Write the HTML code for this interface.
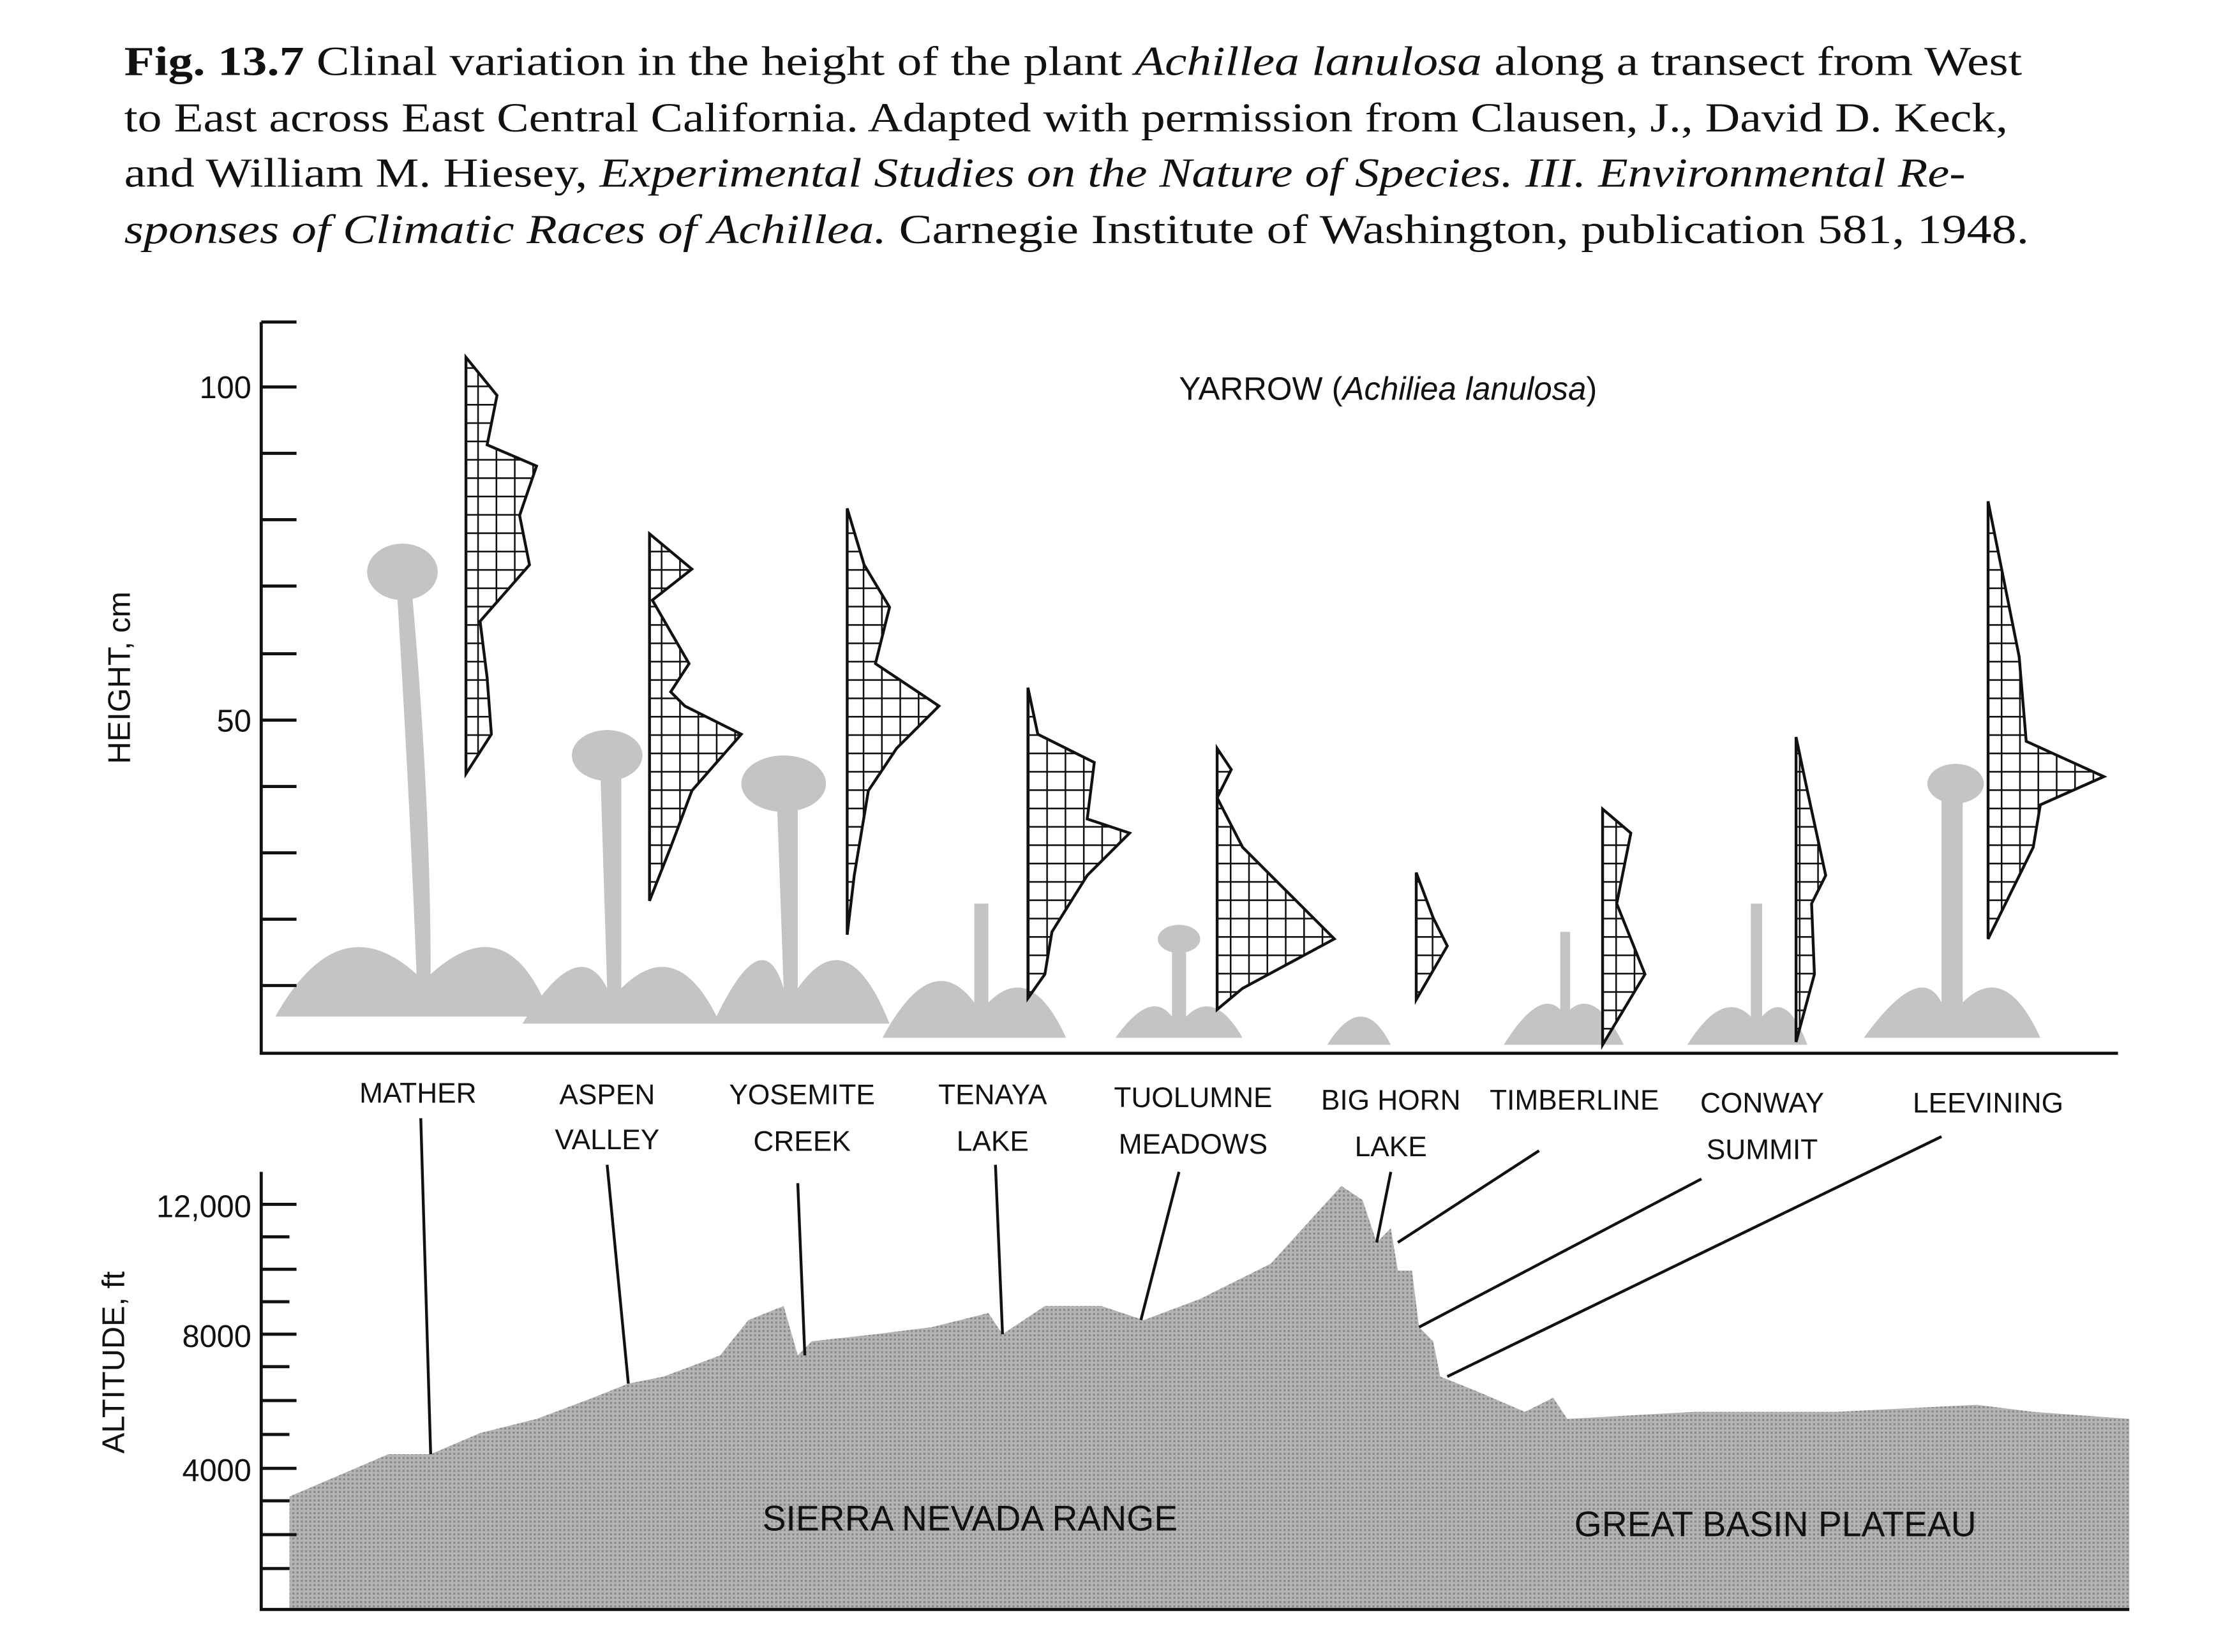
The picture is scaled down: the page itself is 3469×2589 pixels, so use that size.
<!DOCTYPE html>
<html><head><meta charset="utf-8"><style>
html,body{margin:0;padding:0;background:#fff;}
svg{display:block;}
.cap{font-family:"Liberation Serif",serif;font-size:29px;fill:#111;}
.s{font-family:"Liberation Sans",sans-serif;fill:#111;}
</style></head><body>
<svg width="3469" height="2589" viewBox="0 0 1568 1170" xmlns="http://www.w3.org/2000/svg">
<defs>
<pattern id="grid" width="13" height="13" patternUnits="userSpaceOnUse">
<rect width="13" height="13" fill="#fff"/>
<path d="M0 0.5H13M0.5 0V13" stroke="#111" stroke-width="1.3"/>
</pattern>
<pattern id="dots" width="3" height="3" patternUnits="userSpaceOnUse">
<rect width="3" height="3" fill="#b4b4b4"/><rect width="1.5" height="1.5" fill="#8a8a8a"/>
</pattern>
</defs>
<rect width="1568" height="1170" fill="#fff"/>
<text class="cap" x="88" y="53" textLength="1344" lengthAdjust="spacingAndGlyphs"><tspan font-weight="bold">Fig. 13.7</tspan>   Clinal variation in the height of the plant <tspan font-style="italic">Achillea lanulosa</tspan> along a transect from West</text>
<text class="cap" x="88" y="93" textLength="1334" lengthAdjust="spacingAndGlyphs">to East across East Central California. Adapted with permission from Clausen, J., David D. Keck,</text>
<text class="cap" x="88" y="132" textLength="1304" lengthAdjust="spacingAndGlyphs">and William M. Hiesey, <tspan font-style="italic">Experimental Studies on the Nature of Species. III. Environmental Re-</tspan></text>
<text class="cap" x="88" y="172" textLength="1349" lengthAdjust="spacingAndGlyphs"><tspan font-style="italic">sponses of Climatic Races of Achillea.</tspan> Carnegie Institute of Washington, publication 581, 1948.</text>

<!-- plant silhouettes -->
<g fill="#c4c4c4">
<path d="M195 720 Q240 640 295 690 Q290 560 280 400 L290 400 Q305 560 305 690 Q360 640 390 720 Z"/>
<ellipse cx="285" cy="405" rx="25" ry="20"/>
<path d="M370 725 Q410 660 430 700 L425 540 L440 540 L440 700 Q480 660 510 725 Z"/>
<ellipse cx="430" cy="535" rx="25" ry="18"/>
<path d="M505 725 Q540 650 555 700 L550 560 L565 560 L565 700 Q600 650 630 725 Z"/>
<ellipse cx="555" cy="555" rx="30" ry="20"/>
<path d="M625 735 Q660 670 690 710 L690 640 L700 640 L700 710 Q730 680 755 735 Z"/>
<path d="M790 735 Q815 700 830 720 L830 670 L840 670 L840 720 Q860 700 880 735 Z"/>
<ellipse cx="835" cy="665" rx="15" ry="10"/>
<path d="M940 740 Q965 700 985 740 Z"/>
<path d="M1065 740 Q1090 700 1105 715 L1105 660 L1112 660 L1112 715 Q1130 700 1150 740 Z"/>
<path d="M1195 740 Q1220 700 1240 720 L1240 640 L1248 640 L1248 720 Q1265 700 1280 740 Z"/>
<path d="M1320 735 Q1360 680 1375 710 L1375 560 L1390 560 L1390 710 Q1420 680 1445 735 Z"/>
<ellipse cx="1385" cy="555" rx="20" ry="14"/>
</g>

<!-- top axis -->
<g stroke="#111" stroke-width="2.2" fill="none">
<path d="M185 228 V746 H1500"/>
<path d="M185 228 H210 M185 274 H210 M185 321 H210 M185 368 H210 M185 415 H210 M185 463 H210 M185 510 H210 M185 557 H210 M185 604 H210 M185 651 H210 M185 698 H210"/>
</g>
<text class="s" x="178" y="282" font-size="22" text-anchor="end">100</text>
<text class="s" x="178" y="518" font-size="22" text-anchor="end">50</text>
<text class="s" font-size="22" transform="translate(92 480) rotate(-90)" text-anchor="middle">HEIGHT, cm</text>
<text class="s" x="835" y="283" font-size="23">YARROW (<tspan font-style="italic">Achiliea lanulosa</tspan>)</text>

<!-- histograms -->
<g fill="url(#grid)" stroke="#111" stroke-width="2">
<polygon points="330,253 352,280 345,315 380,330 368,365 375,400 340,440 345,480 348,520 330,548"/>
<polygon points="460,378 490,403 462,425 488,470 475,490 485,500 525,520 490,560 475,600 460,638"/>
<polygon points="600,360 612,400 630,430 620,470 665,500 635,530 615,560 605,620 600,662"/>
<polygon points="728,487 735,520 775,540 770,580 800,590 770,620 745,660 740,690 728,707"/>
<polygon points="862,530 872,545 862,565 880,600 945,665 880,700 862,715"/>
<polygon points="1003,618 1015,650 1025,670 1003,708"/>
<polygon points="1135,573 1155,590 1145,640 1165,690 1135,740"/>
<polygon points="1272,522 1280,560 1293,620 1283,640 1285,690 1272,738"/>
<polygon points="1408,355 1418,405 1430,465 1435,525 1490,550 1445,570 1440,600 1408,665"/>
</g>

<!-- location labels -->
<g class="s" font-size="20" text-anchor="middle">
<text x="296" y="781">MATHER</text>
<text x="430" y="782">ASPEN</text><text x="430" y="814">VALLEY</text>
<text x="568" y="782">YOSEMITE</text><text x="568" y="815">CREEK</text>
<text x="703" y="782">TENAYA</text><text x="703" y="815">LAKE</text>
<text x="845" y="784">TUOLUMNE</text><text x="845" y="817">MEADOWS</text>
<text x="985" y="786">BIG HORN</text><text x="985" y="819">LAKE</text>
<text x="1115" y="786">TIMBERLINE</text>
<text x="1248" y="788">CONWAY</text><text x="1248" y="821">SUMMIT</text>
<text x="1408" y="788">LEEVINING</text>
</g>

<!-- mountain -->
<polygon fill="url(#dots)" points="205,1060 240,1045 275,1030 305,1030 340,1015 380,1005 420,990 445,980 470,975 510,960 530,935 555,925 565,960 575,950 620,945 660,940 700,930 710,945 740,925 780,925 810,935 850,920 900,895 950,840 965,850 975,880 985,870 990,900 1000,900 1005,940 1015,950 1020,975 1045,985 1080,1000 1100,990 1110,1005 1200,1000 1300,1000 1400,995 1440,1000 1508,1005 1508,1140 205,1140"/>
<g stroke="#111" stroke-width="2" fill="none">
<path d="M298 792 L305 1030 M430 825 L445 980 M565 838 L570 960 M705 825 L710 945 M835 830 L808 935 M985 830 L975 880 M1090 815 L990 880 M1205 835 L1005 940 M1375 805 L1025 975"/>
</g>

<!-- bottom axis -->
<g stroke="#111" stroke-width="2.2" fill="none">
<path d="M185 830 V1140 H1508"/>
<path d="M185 853 H210 M185 876 H205 M185 899 H210 M185 922 H205 M185 945 H210 M185 968 H205 M185 992 H210 M185 1016 H205 M185 1040 H210 M185 1063 H205 M185 1087 H210 M185 1111 H205"/>
</g>
<text class="s" x="178" y="862" font-size="22" text-anchor="end">12,000</text>
<text class="s" x="178" y="954" font-size="22" text-anchor="end">8000</text>
<text class="s" x="178" y="1049" font-size="22" text-anchor="end">4000</text>
<text class="s" font-size="22" transform="translate(88 965) rotate(-90)" text-anchor="middle">ALTITUDE, ft</text>
<text class="s" x="540" y="1084" font-size="25">SIERRA NEVADA RANGE</text>
<text class="s" x="1115" y="1088" font-size="25">GREAT BASIN PLATEAU</text>
</svg>
</body></html>
